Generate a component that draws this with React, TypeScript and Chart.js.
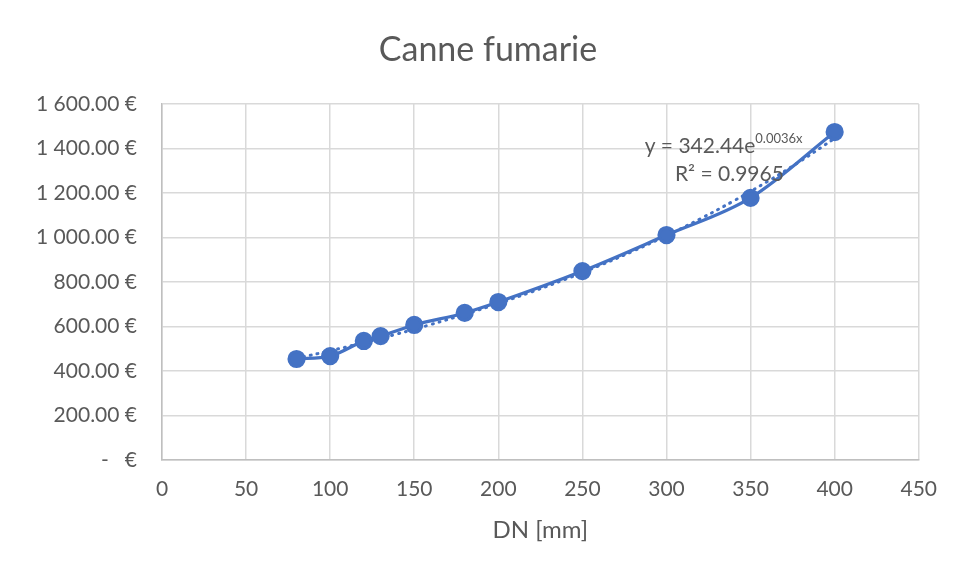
import React, { useEffect, useRef } from "react";
import { Chart, registerables } from "chart.js";

Chart.register(...registerables);

const TITLE = "Canne fumarie";
const X_TITLE = "DN [mm]";
const DN = [80, 100, 120, 130, 150, 180, 200, 250, 300, 350, 400];
const COST = [454, 467, 535, 557, 607, 661, 710, 849, 1011, 1178, 1474];
const TREND_A = 342.44;
const TREND_B = 0.0036;
const TREND_X = [80, 100, 120, 140, 160, 180, 200, 220, 240, 260, 280, 300, 320, 340, 360, 380, 400];
const EQ_MAIN = "y = 342.44e";
const EQ_EXP = "0.0036x";
const R2_TEXT = "R² = 0.9965";

const FONT = "Lato, 'Open Sans', sans-serif";
const GREY = "#595959";
const BLUE = "#4472C4";

function fmtEuro(v: number): string {
  if (v === 0) return "-   €";
  const s = v.toFixed(2);
  const [int, dec] = s.split(".");
  const grouped = int.replace(/\B(?=(\d{3})+(?!\d))/g, " ");
  return grouped + "." + dec + " €";
}

export default function App() {
  const ref = useRef<HTMLCanvasElement>(null);
  useEffect(() => {
    document.body.style.margin = "0";
    if (!ref.current) return;
    const textPlugin = {
      id: "texts",
      afterDatasetsDraw(chart: any) {
        const ctx = chart.ctx;
        const xs = chart.scales.x;
        const ys = chart.scales.y;
        ctx.save();
        ctx.fillStyle = GREY;
        ctx.textBaseline = "alphabetic";
        // title, centred slightly right of the canvas centre as in the reference
        ctx.textAlign = "center";
        ctx.font = "34px " + FONT;
        ctx.fillText(TITLE, chart.width / 2 + 11, 61);
        // trendline equation
        ctx.textAlign = "left";
        const x0 = xs.getPixelForValue(287);
        const y0 = ys.getPixelForValue(1380);
        ctx.font = "21px " + FONT;
        ctx.fillText(EQ_MAIN, x0, y0);
        const w = ctx.measureText(EQ_MAIN).width;
        ctx.font = "13px " + FONT;
        ctx.fillText(EQ_EXP, x0 + w, y0 - 10);
        ctx.font = "21px " + FONT;
        const x1 = xs.getPixelForValue(305);
        const y1 = ys.getPixelForValue(1255);
        ctx.fillText(R2_TEXT, x1, y1);
        ctx.restore();
      },
    };
    const chart = new Chart(ref.current, {
      type: "scatter",
      data: {
        datasets: [
          {
            label: "Trend",
            data: TREND_X.map((x) => ({ x, y: TREND_A * Math.exp(TREND_B * x) })),
            showLine: true,
            borderColor: BLUE,
            borderWidth: 3,
            borderDash: [1, 6],
            borderCapStyle: "round",
            pointRadius: 0,
            tension: 0.4,
            order: 2,
          },
          {
            label: "Costo",
            data: DN.map((x, i) => ({ x, y: COST[i] })),
            showLine: true,
            borderColor: BLUE,
            backgroundColor: BLUE,
            borderWidth: 3.2,
            pointRadius: 7.5,
            pointBackgroundColor: BLUE,
            pointBorderColor: BLUE,
            cubicInterpolationMode: "monotone",
            order: 1,
          },
        ],
      },
      options: {
        animation: false,
        responsive: false,
        layout: { padding: { left: 0, right: 34, top: 104, bottom: 0 } },
        plugins: {
          legend: { display: false },
          tooltip: { enabled: false },
          title: { display: false },
        },
        scales: {
          x: {
            type: "linear",
            min: 0,
            max: 450,
            afterFit: (s: any) => { s.height = 112; },
            ticks: { stepSize: 50, color: GREY, font: { family: FONT, size: 21 }, padding: 17 },
            grid: { color: "#d9d9d9", lineWidth: 1.5, drawTicks: false },
            border: { color: "#bfbfbf", width: 1.5 },
            title: {
              display: true,
              text: X_TITLE,
              color: GREY,
              font: { family: FONT, size: 24 },
              padding: { top: 0, bottom: 27 },
            },
          },
          y: {
            min: 0,
            max: 1600,
            afterFit: (s: any) => { s.width = 162; },
            ticks: {
              stepSize: 200,
              color: GREY,
              font: { family: FONT, size: 21 },
              padding: 25,
              callback: (v: any) => fmtEuro(Number(v)),
            },
            grid: { color: "#d9d9d9", lineWidth: 1.5, drawTicks: false },
            border: { color: "#bfbfbf", width: 1.5 },
          },
        },
      },
      plugins: [textPlugin],
    } as any);
    return () => chart.destroy();
  }, []);
  return (
    <div style={{ width: 954, height: 572, background: "#fff" }}>
      <canvas ref={ref} width={954} height={572} />
    </div>
  );
}
